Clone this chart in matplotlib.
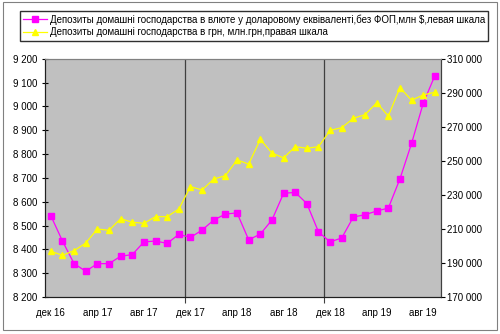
import numpy as np
import matplotlib.pyplot as plt
from matplotlib.patches import Rectangle

plt.rcParams['font.family'] = ['Liberation Sans', 'DejaVu Sans']

months = ['дек 16', 'янв 17', 'фев 17', 'мар 17', 'апр 17', 'май 17', 'июн 17', 'июл 17',
          'авг 17', 'сен 17', 'окт 17', 'ноя 17', 'дек 17', 'янв 18', 'фев 18', 'мар 18',
          'апр 18', 'май 18', 'июн 18', 'июл 18', 'авг 18', 'сен 18', 'окт 18', 'ноя 18',
          'дек 18', 'янв 19', 'фев 19', 'мар 19', 'апр 19', 'май 19', 'июн 19', 'июл 19',
          'авг 19', 'сен 19']

# deposits in foreign currency, mln USD (left scale)
usd = [8541, 8435, 8340, 8308, 8340, 8340, 8371, 8378, 8431, 8435, 8425, 8463,
       8450, 8481, 8523, 8548, 8553, 8440, 8464, 8523, 8635, 8639, 8592, 8473,
       8431, 8448, 8536, 8545, 8561, 8573, 8696, 8845, 9013, 9129]

# deposits in hryvnia, mln UAH (right scale)
uah = [196850, 194500, 197200, 201700, 209950, 209200, 216000, 213900, 213300,
       217200, 217200, 221700, 234800, 232900, 239300, 241300, 250500, 248100,
       262600, 254600, 251700, 258300, 257400, 258300, 267900, 269500, 275000,
       277100, 284100, 276300, 293000, 285600, 288700, 290300]

label_usd = 'Депозиты домашні господарства в влюте у доларовому еквіваленті,без ФОП,млн $,левая шкала'
label_uah = 'Депозиты домашні господарства в грн, млн.грн,правая шкала'

def fmt(v):
    return f'{v:,.0f}'.replace(',', ' ')

x = np.arange(len(months))

fig = plt.figure(figsize=(5, 3.34), dpi=100)
fig.add_artist(Rectangle((0.006, 0.012), 0.988, 0.982, transform=fig.transFigure,
                         fill=False, edgecolor='#808080', linewidth=0.8))

ax = fig.add_axes([45 / 500, 1 - 297 / 334, 395.7 / 500, 238.3 / 334])
ax.set_facecolor('#C0C0C0')
ax2 = ax.twinx()

l1, = ax.plot(x, usd, color='#FF00FF', lw=0.9, marker='s', ms=4,
              mfc='#FF00FF', mec='#FF00FF', label=label_usd, zorder=3)
l2, = ax2.plot(x, uah, color='#FFFF00', lw=0.9, marker='^', ms=4.5,
               mfc='#FFFF00', mec='#FFFF00', label=label_uah, zorder=3)

ax.set_xlim(-0.5, len(months) - 0.5)
ax.set_ylim(8200, 9200)
ax.set_yticks(np.arange(8200, 9201, 100))
ax.set_yticklabels([fmt(v) for v in np.arange(8200, 9201, 100)])
ax2.set_ylim(170000, 310000)
ax2.set_yticks(np.arange(170000, 310001, 20000))
ax2.set_yticklabels([fmt(v) for v in np.arange(170000, 310001, 20000)])

# year separators
for b in (11.5, 23.5):
    ax.axvline(b, color='#404040', lw=0.9, zorder=2)

ax.set_xticks([11.5, 23.5])
ax.set_xticklabels([])
ax.set_xticks(x[::4], minor=True)
ax.set_xticklabels([months[i] for i in x[::4]], minor=True)
ax.tick_params(axis='x', which='major', length=4, width=0.8, color='#404040')
ax.tick_params(axis='x', which='minor', length=0, pad=8, labelsize=7)
ax.tick_params(axis='y', direction='inout', length=5, width=0.8, labelsize=7, pad=3)
ax2.tick_params(axis='y', direction='out', length=3, width=0.8, labelsize=7, pad=1.5)

for a in (ax, ax2):
    a.spines['top'].set_color('#808080')
    a.spines['left'].set_color('#202020')
    a.spines['bottom'].set_color('#202020')
    a.spines['right'].set_color('#404040')
    for s in a.spines.values():
        s.set_linewidth(0.8)

fig.legend(handles=[l1, l2], loc='upper left', bbox_to_anchor=(20 / 500, 1 - 11 / 334),
           bbox_transform=fig.transFigure, fontsize=7, frameon=True, fancybox=False,
           edgecolor='#303030', framealpha=1, handlelength=2.4, handletextpad=0.3,
           borderpad=0.35, labelspacing=0.25, borderaxespad=0)

fig.savefig('out.png', dpi=100)
